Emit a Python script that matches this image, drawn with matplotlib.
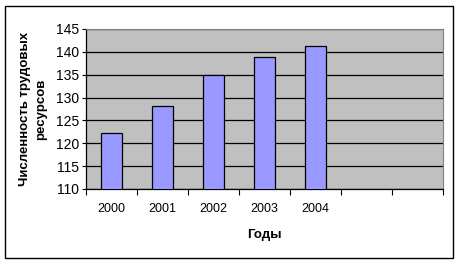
import numpy as np
import matplotlib
matplotlib.use("Agg")
import matplotlib.pyplot as plt
from matplotlib.patches import Rectangle

# data
years = ["2000", "2001", "2002", "2003", "2004", "", ""]
values = [122.3, 128.1, 134.9, 138.9, 141.2]
yticks = [110, 115, 120, 125, 130, 135, 140, 145]

plt.rcParams['font.family'] = ['Liberation Sans', 'DejaVu Sans']

fig = plt.figure(figsize=(4.6, 2.62), dpi=100)
fig.patch.set_facecolor("white")
# outer chart frame
fig.patches.append(Rectangle((5 / 460, 4 / 262), 448 / 460, 252 / 262,
                             transform=fig.transFigure, fill=False,
                             edgecolor="black", linewidth=1.0))

ax = fig.add_axes([86 / 460, 73 / 262, 357 / 460, 160 / 262])
ax.set_facecolor("#c0c0c0")

x = np.arange(len(years))
ax.bar(x[:len(values)], values, width=0.4, color="#9999ff",
       edgecolor="black", linewidth=0.9, zorder=3)

ax.set_xlim(-0.5, len(years) - 0.5)
ax.set_ylim(110, 145)
ax.set_yticks(yticks)
ax.set_yticklabels([str(v) for v in yticks], fontsize=10)
ax.yaxis.grid(True, color="black", linewidth=0.9, zorder=1)
ax.set_axisbelow(True)

# category labels between boundary ticks
ax.set_xticks(np.arange(len(years) + 1) - 0.5)
ax.set_xticklabels([])
ax.set_xticks(x, minor=True)
ax.set_xticklabels(years, minor=True, fontsize=9)
ax.tick_params(axis="x", which="minor", length=0, pad=10)
ax.tick_params(axis="x", which="major", length=4, direction="out", width=0.8)
ax.tick_params(axis="y", length=3, direction="out", width=0.8, pad=2)

for side in ["left", "bottom"]:
    ax.spines[side].set_color("black")
    ax.spines[side].set_linewidth(0.9)
for side in ["top", "right"]:
    ax.spines[side].set_color("#808080")
    ax.spines[side].set_linewidth(0.8)

ax.set_xlabel("Годы", fontsize=9.5, fontweight="bold", labelpad=10)
ax.set_ylabel("Численность трудовых\nресурсов", fontsize=9.5,
              fontweight="bold", labelpad=6, linespacing=1.5)

fig.savefig("out.png", dpi=100)
